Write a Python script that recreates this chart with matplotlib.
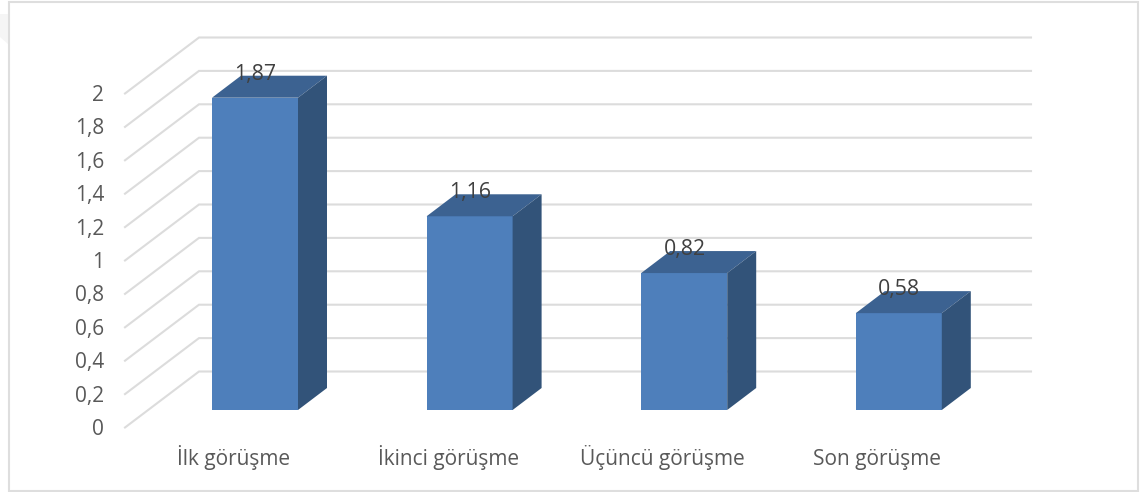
import matplotlib
matplotlib.use("Agg")
import matplotlib.pyplot as plt
from matplotlib.patches import Polygon, Rectangle

categories = ["İlk görüşme", "İkinci görüşme", "Üçüncü görüşme", "Son görüşme"]
values = [1.87, 1.16, 0.82, 0.58]
value_labels = ["1,87", "1,16", "0,82", "0,58"]
ticks = [0, 0.2, 0.4, 0.6, 0.8, 1.0, 1.2, 1.4, 1.6, 1.8, 2.0]
tick_labels = ["0", "0,2", "0,4", "0,6", "0,8", "1", "1,2", "1,4", "1,6", "1,8", "2"]

W, H = 1148, 492
plt.rcParams["font.family"] = ["Open Sans", "DejaVu Sans"]

fig = plt.figure(figsize=(W / 100, H / 100), dpi=100)
ax = fig.add_axes([0, 0, 1, 1])
ax.axis("off")

# Axis scales: one category step is 214.6 px, one value unit is 167 px.
XU, YU = 214.6, 167.0
X0, Y0 = 255.0, 410.0
ax.set_xlim((0 - X0) / XU, (W - X0) / XU)
ax.set_ylim((Y0 - H) / YU, Y0 / YU)

# Oblique depth vector of the pseudo-3D scene, in data units.
DX, DY = 29 / XU, 22 / YU
BAR_W = 86 / XU

px = lambda p: (p - X0) / XU
py = lambda p: (Y0 - p) / YU

# Faint page mark showing at the left edge, outside the frame
ax.add_patch(Polygon([(px(0), py(14)), (px(8), py(14)), (px(8), py(44)), (px(0), py(37))],
                     closed=True, fc="#f5f5f5", ec="none", zorder=0))

# Outer chart frame
ax.add_patch(Rectangle((px(9), py(491)), 1129 / XU, 489.5 / YU, fill=False,
                       ec="#dedede", lw=1.5, zorder=1))

# Back wall and side wall gridlines
GRID = "#dcdcdc"
wall_front = px(125)
wall_back = px(199)
wall_right = px(1031)
for t, tl in zip(ticks, tick_labels):
    front_y = t + py(427.5)
    back_y = t + py(371.5)
    ax.plot([wall_front, wall_back, wall_right], [front_y, back_y, back_y],
            color=GRID, lw=1.5, solid_joinstyle="miter", zorder=2)
    ax.text(px(104), front_y - 7.5 / YU, tl, ha="right", va="baseline",
            fontsize=15, color="#595959", zorder=6)

# Bars: front face, top face, side face
for i, (v, lab, cat) in enumerate(zip(values, value_labels, categories)):
    left, right = i - BAR_W / 2, i + BAR_W / 2
    ax.bar(i, v, width=BAR_W, color="#4e7fbb", zorder=3)
    ax.add_patch(Polygon([(left, v), (right, v), (right + DX, v + DY), (left + DX, v + DY)],
                         closed=True, fc="#3c6291", ec="none", zorder=3))
    ax.add_patch(Polygon([(right, 0), (right + DX, DY), (right + DX, v + DY), (right, v)],
                         closed=True, fc="#325379", ec="none", zorder=3))
    ax.text(i + 0.5 / XU, v + 18 / YU, lab, ha="center", va="baseline",
            fontsize=15.3, color="#404040", zorder=6)
    ax.text(i - 21.5 / XU, py(465), cat, ha="center", va="baseline",
            fontsize=15, color="#595959", zorder=6)

fig.savefig("out.png", dpi=100, facecolor="white")
